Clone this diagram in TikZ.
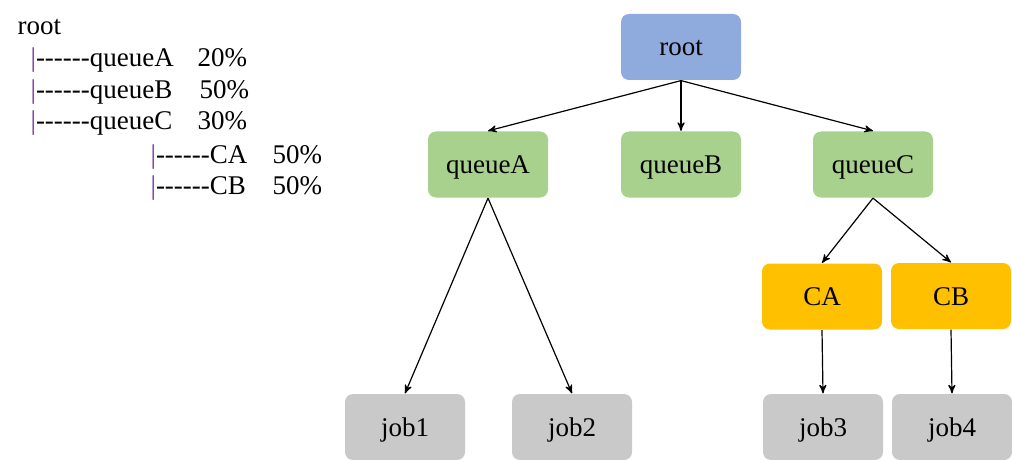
\documentclass[tikz,border=0pt]{standalone}
\usepackage{fontspec}
\setmainfont{Liberation Serif}
\usepackage{tikz}
\usetikzlibrary{positioning, calc, shapes, arrows}

\definecolor{rootblue}{HTML}{8FAADC}
\definecolor{queuegreen}{HTML}{A9D18E}
\definecolor{subyellow}{HTML}{FFC000}
\definecolor{jobgray}{HTML}{C9C9C9}
\definecolor{barpurple}{HTML}{7030A0}

\newcommand{\hd}{\mbox{-}}
\newcommand{\branch}{{\color{barpurple}|}\hd\hd\hd\hd\hd\hd}

\tikzset{
  qbox/.style={rectangle, rounded corners=4pt, draw=none, minimum width=60pt, minimum height=33pt, text height=11pt, text depth=2pt, align=center},
  txt/.style={anchor=base west, inner sep=0pt},
}

\begin{document}
\begin{tikzpicture}[x=0.5pt,y=-0.5pt,->,>=stealth',semithick,font=\fontsize{13.5}{16}\selectfont]
  \useasboundingbox (0,0) rectangle (1012,460);

  % text tree
  \node[txt] (troot) at (17,35) {root};
  \node[txt] (tqa) at (30,67) {\branch queueA};
  \node[txt] (tqb) at (30,99) {\branch queueB};
  \node[txt] (tqc) at (30,130) {\branch queueC};
  \node[txt] (tca) at (150,163) {\branch CA};
  \node[txt] (tcb) at (150,194) {\branch CB};
  \node[txt] (pqa) at (197,67) {20\%};
  \node[txt] (pqb) at (199,99) {50\%};
  \node[txt] (pqc) at (197,130) {30\%};
  \node[txt] (pca) at (272,163) {50\%};
  \node[txt] (pcb) at (272,194) {50\%};

  % graph
  \node[qbox, fill=rootblue] (root) at (681,47) {root};
  \node[qbox, fill=queuegreen] (queueA) at (488,164.5) {queueA};
  \node[qbox, fill=queuegreen] (queueB) at (681,164.5) {queueB};
  \node[qbox, fill=queuegreen] (queueC) at (873,164.5) {queueC};
  \node[qbox, fill=subyellow] (CA) at (822,296.5) {CA};
  \node[qbox, fill=subyellow] (CB) at (951,296) {CB};
  \node[qbox, fill=jobgray] (job1) at (405,427) {job1};
  \node[qbox, fill=jobgray] (job2) at (572,427) {job2};
  \node[qbox, fill=jobgray] (job3) at (823,427) {job3};
  \node[qbox, fill=jobgray] (job4) at (952,427) {job4};

  \path
    (root.south) edge (queueA.north)
    (root.south) edge (queueB.north)
    (root.south) edge (queueC.north)
    (queueA.south) edge (job1.north)
    (queueA.south) edge (job2.north)
    (queueC.south) edge (CA.north)
    (queueC.south) edge (CB.north)
    (CA.south) edge (job3.north)
    (CB.south) edge (job4.north);
\end{tikzpicture}
\end{document}
